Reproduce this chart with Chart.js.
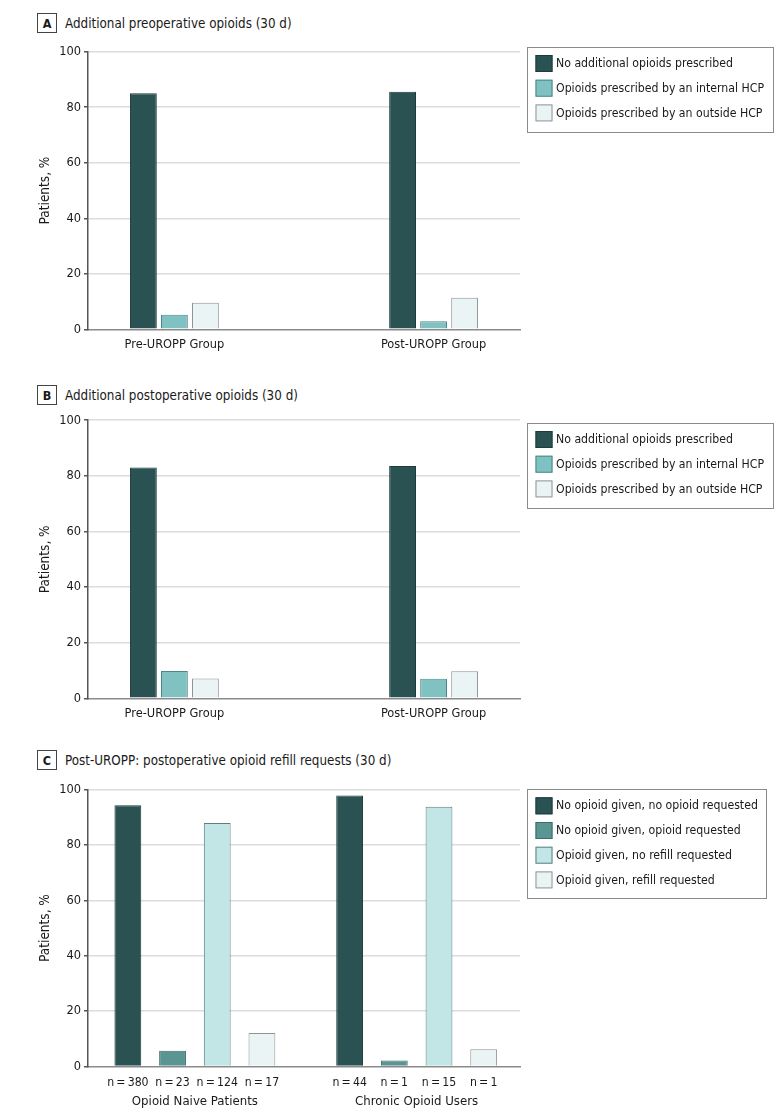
<!DOCTYPE html>
<html>
<head>
<meta charset="utf-8">
<script src="https://cdn.jsdelivr.net/npm/chart.js@4.4.1/dist/chart.umd.min.js"></script>
<style>
html, body { margin: 0; padding: 0; background: #fff; }
body { width: 780px; height: 1119px; position: relative; overflow: hidden; font-family: "DejaVu Sans Condensed", "Liberation Sans Narrow", Roboto, sans-serif; color: #1a1a1a; }
.hdr { position: absolute; left: 37px; display: flex; align-items: center; font-size: 13.3px; color: #1a1a1a; white-space: nowrap; }
.tag { box-sizing: border-box; width: 20px; height: 20px; border: 1px solid #444; font-weight: bold; font-size: 12.5px; display: flex; align-items: center; justify-content: center; margin-right: 8px; }
canvas { position: absolute; left: 0; }
</style>
</head>
<body>
<div class="hdr" style="top:13px"><span class="tag">A</span><span>Additional preoperative opioids (30 d)</span></div>
<div class="hdr" style="top:385px"><span class="tag">B</span><span>Additional postoperative opioids (30 d)</span></div>
<div class="hdr" style="top:750px"><span class="tag">C</span><span>Post-UROPP: postoperative opioid refill requests (30 d)</span></div>
<canvas id="chartA" width="780" height="369" style="top:0px"></canvas>
<canvas id="chartB" width="780" height="369" style="top:369px"></canvas>
<canvas id="chartC" width="780" height="381" style="top:738px"></canvas>
<script>
// ---------- data ----------
const groupsAB = ['Pre-UROPP Group', 'Post-UROPP Group'];
const seriesAB = ['No additional opioids prescribed', 'Opioids prescribed by an internal HCP', 'Opioids prescribed by an outside HCP'];

const preopNone = [85.0, 85.6];
const preopInternal = [5.2, 2.9];
const preopOutside = [9.6, 11.4];

const postopNone = [83.0, 83.5];
const postopInternal = [9.8, 7.0];
const postopOutside = [7.1, 9.7];

const groupsC = ['Opioid Naive Patients', 'Chronic Opioid Users'];
const seriesC = ['No opioid given, no opioid requested', 'No opioid given, opioid requested', 'Opioid given, no refill requested', 'Opioid given, refill requested'];
const noGivenNoReq = [94.3, 97.8];
const noGivenReq = [5.7, 2.2];
const givenNoRefill = [87.9, 93.8];
const givenRefill = [12.1, 6.2];
const nNoGivenNoReq = [380, 44];
const nNoGivenReq = [23, 1];
const nGivenNoRefill = [124, 15];
const nGivenRefill = [17, 1];

const yTicks = [0, 20, 40, 60, 80, 100];
const yTitle = 'Patients, %';

// ---------- styles ----------
const FONT = '"DejaVu Sans Condensed", "Liberation Sans Narrow", Roboto, sans-serif';
const FS_TICK = 12.7;
const FS_LEG = 12.2;
const FS_TITLE = 13.5;
const FS_N = 12.2;
const TXT = '#1a1a1a';
const stAB = [
  { bg: '#2a5252', bd: '#1e3a3a' },
  { bg: '#80c2c1', bd: '#4f8584' },
  { bg: '#eaf4f4', bd: '#8e9494' }
];
const stC = [
  { bg: '#2a5252', bd: '#1e3a3a' },
  { bg: '#5a9593', bd: '#3d6b6a' },
  { bg: '#c1e6e5', bd: '#5f7f7f' },
  { bg: '#eaf4f4', bd: '#8e9494' }
];

// ---------- plugins ----------
const boxLegend = {
  id: 'boxLegend',
  afterDraw(chart, args, o) {
    const ctx = chart.ctx;
    const ds = chart.data.datasets;
    ctx.save();
    ctx.font = o.size + 'px ' + FONT;
    const tw = Math.max(...ds.map(d => ctx.measureText(d.label).width));
    const w = 29 + tw + 8.5;
    const h = 16.5 + (ds.length - 1) * o.row + 18.8;
    ctx.strokeStyle = '#8a8a8a';
    ctx.lineWidth = 1;
    ctx.strokeRect(Math.round(o.left) + 0.5, Math.round(o.top) + 0.5, Math.round(w), Math.round(h));
    ds.forEach((d, i) => {
      const cy = o.top + 16.5 + i * o.row;
      ctx.fillStyle = d.backgroundColor;
      ctx.fillRect(o.left + 8.5, cy - 8.5, 17, 17);
      ctx.strokeStyle = d.borderColor;
      ctx.strokeRect(o.left + 9, cy - 8, 16, 16);
      ctx.fillStyle = TXT;
      ctx.textAlign = 'left';
      ctx.textBaseline = 'middle';
      ctx.fillText(d.label, o.left + 29, cy + 0.5);
    });
    ctx.restore();
  }
};

const nLabels = {
  id: 'nLabels',
  afterDatasetsDraw(chart, args, o) {
    if (!o || !o.counts) return;
    const ctx = chart.ctx;
    ctx.save();
    ctx.font = FS_N + 'px ' + FONT;
    ctx.fillStyle = TXT;
    ctx.textAlign = 'center';
    ctx.textBaseline = 'middle';
    o.counts.forEach((arr, di) => {
      const meta = chart.getDatasetMeta(di);
      meta.data.forEach((bar, i) => {
        ctx.fillText('n\u2009=\u2009' + arr[i], bar.x, chart.chartArea.bottom + o.offset);
      });
    });
    ctx.restore();
  }
};

// ---------- builder ----------
function makePanel(id, cfg) {
  const canvas = document.getElementById(id);
  const H = canvas.height;
  const datasets = cfg.series.map((label, si) => ({
    label,
    data: cfg.values[si].map((v, i) => ({ x: i, y: v })),
    backgroundColor: cfg.styles[si].bg,
    borderColor: cfg.styles[si].bd,
    borderWidth: 1,
    categoryPercentage: cfg.catPct,
    barPercentage: cfg.barPct
  }));
  return new Chart(canvas, {
    type: 'bar',
    data: { datasets },
    plugins: [boxLegend, nLabels],
    options: {
      responsive: false,
      animation: false,
      devicePixelRatio: 1,
      layout: { padding: { top: cfg.top, left: 0, right: 780 - 520, bottom: 0 } },
      plugins: {
        legend: { display: false },
        tooltip: { enabled: false },
        title: { display: false },
        boxLegend: cfg.legend,
        nLabels: cfg.nLabels || {}
      },
      scales: {
        x: {
          type: 'linear',
          offset: false,
          min: cfg.xmin,
          max: cfg.xmax,
          afterBuildTicks: s => { s.ticks = cfg.groups.map((g, i) => ({ value: i })); },
          ticks: {
            autoSkip: false,
            maxRotation: 0,
            padding: cfg.xPad,
            color: TXT,
            font: { family: FONT, size: cfg.xFont || FS_TICK },
            callback: (v, i) => cfg.groups[i]
          },
          grid: { display: false, drawTicks: false, offset: false },
          border: { display: true, color: '#8a8a8a', width: 1.5 },
          afterFit: s => { s.height = H - cfg.bottom; }
        },
        y: {
          min: 0,
          max: 100,
          afterBuildTicks: s => { s.ticks = yTicks.map(v => ({ value: v })); },
          ticks: { padding: 3, color: TXT, font: { family: FONT, size: FS_TICK } },
          grid: {
            color: c => (c.tick && c.tick.value === 0) ? 'rgba(0,0,0,0)' : '#dcdcdc',
            lineWidth: 1.5,
            tickColor: '#555',
            tickLength: 4
          },
          border: { color: '#555', width: 1.5 },
          title: { display: true, text: yTitle, color: TXT, font: { family: FONT, size: FS_TITLE }, padding: { top: 37, bottom: 0 } },
          afterFit: s => { s.width = 88; }
        }
      }
    }
  });
}

makePanel('chartA', {
  groups: groupsAB, series: seriesAB, styles: stAB,
  values: [preopNone, preopInternal, preopOutside],
  top: 51.7, bottom: 329.3, xmin: -1 / 3, xmax: 4 / 3,
  catPct: 0.359, barPct: 0.865, xPad: 8,
  legend: { left: 527, top: 47, row: 24.7, size: FS_LEG }
});

makePanel('chartB', {
  groups: groupsAB, series: seriesAB, styles: stAB,
  values: [postopNone, postopInternal, postopOutside],
  top: 51.2, bottom: 329.3, xmin: -1 / 3, xmax: 4 / 3,
  catPct: 0.359, barPct: 0.865, xPad: 8,
  legend: { left: 527, top: 54, row: 24.7, size: FS_LEG }
});

makePanel('chartC', {
  groups: groupsC, series: seriesC, styles: stC,
  values: [noGivenNoReq, noGivenReq, givenNoRefill, givenRefill],
  top: 51.5, bottom: 328.5, xmin: -0.482, xmax: 1.466,
  catPct: 0.806, barPct: 0.6, xPad: 27, xFont: 13.1,
  legend: { left: 527, top: 51.3, row: 24.7, size: FS_LEG },
  nLabels: { counts: [nNoGivenNoReq, nNoGivenReq, nGivenNoRefill, nGivenRefill], offset: 16.5 }
});
</script>
</body>
</html>
